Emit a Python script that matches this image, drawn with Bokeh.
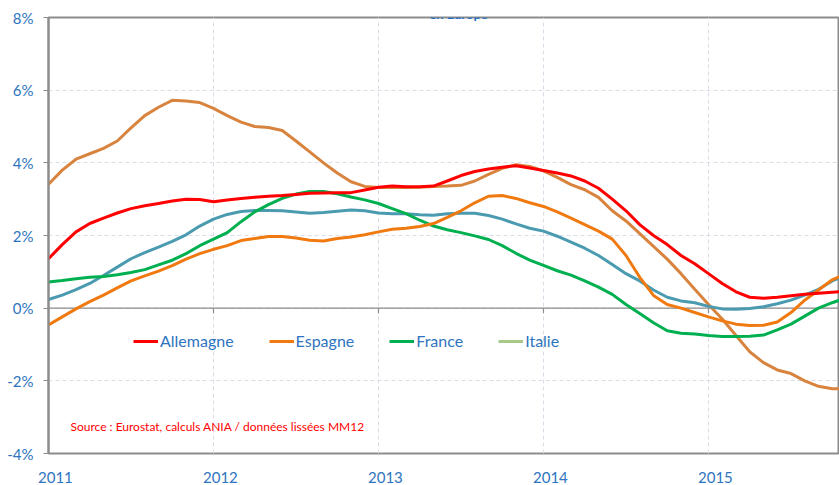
import math
from bokeh.plotting import figure
from bokeh.models import Range1d, FixedTicker, Legend, LegendItem, Label
from bokeh.embed import file_html
from bokeh.resources import INLINE

# ---- data (monthly, Jan 2011 onwards, % year-on-year, smoothed) ----
months_from_2011 = list(range(59))

allemagne = [1.36, 1.75, 2.10, 2.33, 2.48, 2.62, 2.74, 2.82, 2.88, 2.95,
             3.00, 2.99, 2.93, 2.98, 3.02, 3.05, 3.08, 3.10, 3.13, 3.16,
             3.17, 3.18, 3.18, 3.25, 3.33, 3.36, 3.34, 3.34, 3.36, 3.50,
             3.65, 3.76, 3.83, 3.88, 3.92, 3.86, 3.79, 3.72, 3.64, 3.50,
             3.30, 3.00, 2.68, 2.30, 2.00, 1.75, 1.45, 1.22, 0.95, 0.68,
             0.45, 0.30, 0.27, 0.30, 0.34, 0.38, 0.41, 0.44, 0.46]

espagne = [-0.46, -0.24, -0.02, 0.18, 0.36, 0.56, 0.75, 0.89, 1.02, 1.17,
           1.35, 1.50, 1.62, 1.72, 1.86, 1.92, 1.97, 1.97, 1.93, 1.87,
           1.85, 1.92, 1.96, 2.02, 2.10, 2.17, 2.20, 2.25, 2.33, 2.50,
           2.68, 2.90, 3.08, 3.10, 3.02, 2.90, 2.80, 2.65, 2.48, 2.30,
           2.12, 1.90, 1.45, 0.85, 0.35, 0.10, 0.00, -0.12, -0.24, -0.35,
           -0.44, -0.48, -0.47, -0.38, -0.12, 0.22, 0.50, 0.78, 0.95]

france = [0.72, 0.76, 0.81, 0.85, 0.87, 0.92, 0.98, 1.06, 1.19, 1.32,
          1.50, 1.72, 1.90, 2.08, 2.38, 2.65, 2.85, 3.02, 3.14, 3.21,
          3.21, 3.15, 3.06, 2.98, 2.88, 2.74, 2.60, 2.42, 2.26, 2.16,
          2.08, 1.99, 1.89, 1.72, 1.51, 1.32, 1.18, 1.03, 0.91, 0.75,
          0.58, 0.38, 0.10, -0.15, -0.40, -0.62, -0.69, -0.71, -0.75, -0.78,
          -0.78, -0.77, -0.74, -0.60, -0.44, -0.22, 0.00, 0.15, 0.28]

italie = [float("nan")] * 59  # not visible in the picture (legend entry only)

serie_brune = [3.41, 3.80, 4.10, 4.25, 4.40, 4.60, 4.96, 5.30, 5.53, 5.72,
               5.70, 5.66, 5.50, 5.30, 5.12, 5.00, 4.97, 4.89, 4.60, 4.30,
               4.00, 3.72, 3.48, 3.35, 3.32, 3.32, 3.32, 3.33, 3.35, 3.36,
               3.38, 3.50, 3.68, 3.85, 3.95, 3.90, 3.78, 3.60, 3.40, 3.26,
               3.05, 2.68, 2.40, 2.05, 1.70, 1.35, 0.95, 0.52, 0.10, -0.30,
               -0.75, -1.20, -1.50, -1.70, -1.80, -2.00, -2.15, -2.22, -2.22]

serie_bleue = [0.24, 0.36, 0.51, 0.68, 0.90, 1.13, 1.36, 1.53, 1.68, 1.84,
               2.02, 2.26, 2.45, 2.58, 2.66, 2.69, 2.69, 2.68, 2.65, 2.61,
               2.63, 2.67, 2.70, 2.68, 2.62, 2.60, 2.60, 2.57, 2.56, 2.60,
               2.61, 2.61, 2.55, 2.45, 2.32, 2.20, 2.12, 1.98, 1.82, 1.65,
               1.45, 1.20, 0.95, 0.75, 0.50, 0.30, 0.20, 0.15, 0.05, -0.02,
               -0.03, -0.01, 0.04, 0.12, 0.22, 0.36, 0.52, 0.75, 0.90]

year_ticks = [2011, 2012, 2013, 2014, 2015]
year_labels = ["2011", "2012", "2013", "2014", "2015"]
y_ticks = [-4, -2, 0, 2, 4, 6, 8]
y_labels = ["-4%", "-2%", "0%", "2%", "4%", "6%", "8%"]

title_text = "en Europe"
source_text = "Source : Eurostat, calculs ANIA / données lissées MM12"

# ---- style ----
FONT = "Lato"
BLUE = "#2E74C0"
GRAY = "#8C8C8C"
GRID = "#DCDCE8"

x_vals = [2011 + m / 12.0 for m in months_from_2011]

p = figure(width=839, height=485, output_backend="svg", toolbar_location=None,
           x_range=Range1d(2011, 2015.794), y_range=Range1d(-4, 8),
           min_border_left=48, min_border_right=0, min_border_top=17,
           min_border_bottom=29)
p.background_fill_color = "white"
p.border_fill_color = "white"
p.outline_line_color = GRAY
p.outline_line_width = 2

# grids
p.xgrid.ticker = FixedTicker(ticks=year_ticks)
p.ygrid.ticker = FixedTicker(ticks=y_ticks)
for g in (p.xgrid, p.ygrid):
    g.grid_line_color = GRID
    g.grid_line_dash = "4 3"
    g.grid_line_width = 1

# y axis
p.yaxis.ticker = FixedTicker(ticks=y_ticks)
p.yaxis.major_label_overrides = {t: l for t, l in zip(y_ticks, y_labels)}
p.yaxis.major_label_text_font = FONT
p.yaxis.major_label_text_font_size = "15px"
p.yaxis.major_label_text_color = BLUE
p.yaxis.axis_line_color = GRAY
p.yaxis.axis_line_width = 2
p.yaxis.major_tick_line_color = GRAY
p.yaxis.major_tick_out = 5
p.yaxis.major_tick_in = 0
p.yaxis.minor_tick_line_color = None
p.yaxis.major_label_standoff = 10

# x axis (labels slightly right of the year gridlines, as in the original)
label_shift = 0.042
x_label_ticks = [t + label_shift for t in year_ticks]
p.xaxis.ticker = FixedTicker(ticks=x_label_ticks)
p.xaxis.major_label_overrides = {t: l for t, l in zip(x_label_ticks, year_labels)}
p.xaxis.major_label_text_font = FONT
p.xaxis.major_label_text_font_size = "15px"
p.xaxis.major_label_text_color = BLUE
p.xaxis.axis_line_color = None
p.xaxis.major_tick_line_color = None
p.xaxis.minor_tick_line_color = None
p.xaxis.major_label_standoff = 12

# zero line with small ticks
p.line(x=[2010, 2016], y=[0, 0], line_color=GRAY, line_width=1.2)
p.ray(x=year_ticks, y=[0] * len(year_ticks), length=5, length_units="screen",
      angle=-math.pi / 2, line_color=GRAY, line_width=1.2)

# series
r_brune = p.line(x_vals, serie_brune, line_color="#D8843F", line_width=3)
r_bleue = p.line(x_vals, serie_bleue, line_color="#4A9BB0", line_width=3)
r_fr = p.line(x_vals, france, line_color="#00B050", line_width=3)
r_es = p.line(x_vals, espagne, line_color="#F07A10", line_width=3)
r_de = p.line(x_vals, allemagne, line_color="#FF0000", line_width=3)
r_it = p.line(x_vals, italie, line_color="#A8C88A", line_width=3)

legend = Legend(items=[LegendItem(label="Allemagne", renderers=[r_de]),
                       LegendItem(label="Espagne", renderers=[r_es]),
                       LegendItem(label="France", renderers=[r_fr]),
                       LegendItem(label="Italie", renderers=[r_it])],
                orientation="horizontal", location=(85, 103),
                glyph_width=25, glyph_height=18, label_standoff=2,
                spacing=35, padding=0, margin=0,
                label_text_font=FONT, label_text_font_size="16px",
                label_text_color=BLUE, border_line_color=None,
                background_fill_alpha=0)
p.add_layout(legend)

p.add_layout(Label(x=2011.133, y=-3.26, text=source_text, text_font=FONT,
                   text_font_size="12px", text_color="#FF0000",
                   text_baseline="middle"))

p.add_layout(Label(x=2013.485, y=8.11, text=title_text, text_font=FONT,
                   text_font_size="13px", text_font_style="bold",
                   text_color="#1F6FC4", text_align="center",
                   text_baseline="alphabetic"))

open("out.html", "w").write(file_html(p, INLINE))
